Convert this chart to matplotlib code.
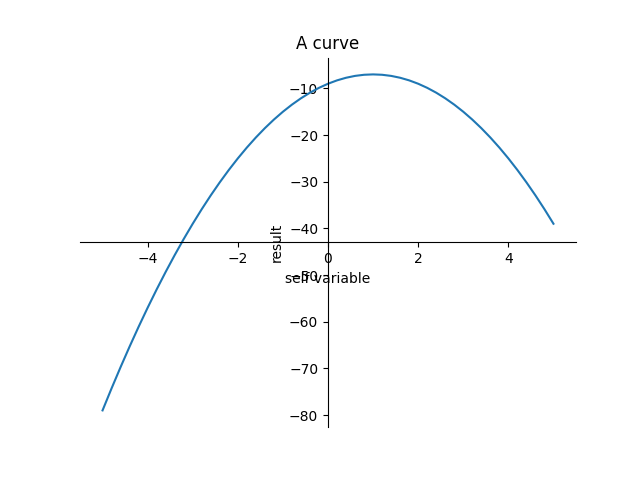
import matplotlib
matplotlib.use("Agg")
import matplotlib.pyplot as plt

# values (x step 0.2)
x_vals = [-5.0, -4.8, -4.6, -4.4, -4.2, -4.0, -3.8, -3.6, -3.4, -3.2, -3.0,
          -2.8, -2.6, -2.4, -2.2, -2.0, -1.8, -1.6, -1.4, -1.2, -1.0,
          -0.8, -0.6, -0.4, -0.2, 0.0, 0.2, 0.4, 0.6, 0.8, 1.0,
          1.2, 1.4, 1.6, 1.8, 2.0, 2.2, 2.4, 2.6, 2.8, 3.0,
          3.2, 3.4, 3.6, 3.8, 4.0, 4.2, 4.4, 4.6, 4.8, 5.0]
y_vals = [-79, -74.28, -69.72, -65.32, -61.08, -57, -53.08, -49.32, -45.72, -42.28, -39,
          -35.88, -32.92, -30.12, -27.48, -25, -22.68, -20.52, -18.52, -16.68, -15,
          -13.48, -12.12, -10.92, -9.88, -9, -8.28, -7.72, -7.32, -7.08, -7,
          -7.08, -7.32, -7.72, -8.28, -9, -9.88, -10.92, -12.12, -13.48, -15,
          -16.68, -18.52, -20.52, -22.68, -25, -27.48, -30.12, -32.92, -35.88, -39]

fig, ax = plt.subplots(figsize=(6.4, 4.8), dpi=100)
ax.plot(x_vals, y_vals)

# move the axes to the middle
ax.spines['left'].set_position('center')
ax.spines['bottom'].set_position('center')
ax.spines['top'].set_visible(False)
ax.spines['right'].set_visible(False)

ax.set_title("A curve")
ax.set_xlabel("self variable")
ax.set_ylabel("result")

fig.savefig("out.png")
